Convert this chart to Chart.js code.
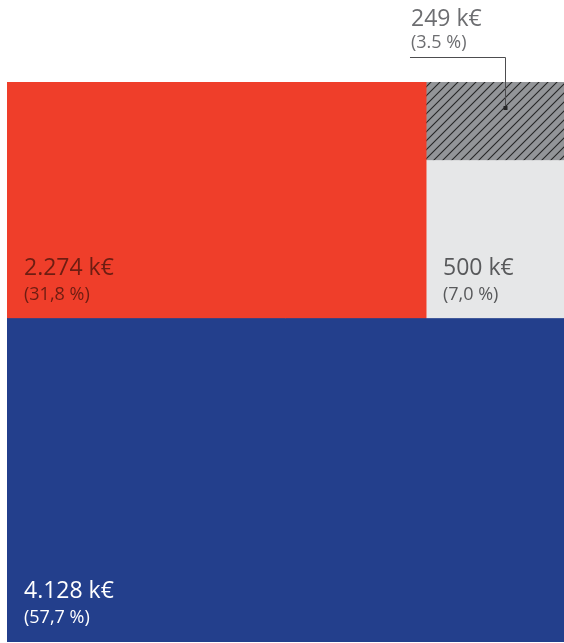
<!DOCTYPE html>
<html>
<head>
<meta charset="utf-8">
<script src="https://cdn.jsdelivr.net/npm/chart.js@4/dist/chart.umd.min.js"></script>
<style>
  html, body { margin: 0; padding: 0; background: #fff; }
  #wrap { width: 564px; height: 643px; }
</style>
</head>
<body>
<div id="wrap"><canvas id="treemap" width="564" height="643"></canvas></div>
<script>
// values (k€), in layout order: big bottom block, top left, right bottom, right top
const values = [4128, 2274, 500, 249];
const valueLabels = ['4.128 k€', '2.274 k€', '500 k€', '249 k€'];
const shareLabels = ['(57,7 %)', '(31,8 %)', '(7,0 %)', '(3.5 %)'];

const fillColors = ['#233f8c', '#ef3e2a', '#e6e7e8', null]; // last one is hatched
const textColors = ['#ffffff', '#6d1d12', '#58595b', '#6d6e71'];

// hatch pattern for the smallest block
function hatch() {
    const c = document.createElement('canvas');
    c.width = 9; c.height = 9;
    const g = c.getContext('2d');
    g.fillStyle = '#939598';
    g.fillRect(0, 0, 9, 9);
    g.strokeStyle = '#262626';
    g.lineWidth = 1.1;
    g.beginPath();
    g.moveTo(-1, 10); g.lineTo(10, -1);
    g.moveTo(-1, 1); g.lineTo(1, -1);
    g.moveTo(8, 10); g.lineTo(10, 8);
    g.stroke();
    return g.createPattern(c, 'repeat');
}
fillColors[3] = hatch();

// simple slice layout in unit square (y up)
const total = values.reduce((a, b) => a + b, 0);
const hBottom = values[0] / total;
const rest = values[1] + values[2] + values[3];
const wLeft = values[1] / rest;
const hMid = (1 - hBottom) * values[2] / (values[2] + values[3]);
const rects = [
    [0, 1, 0, hBottom],
    [0, wLeft, hBottom, 1],
    [wLeft, 1, hBottom, hBottom + hMid],
    [wLeft, 1, hBottom + hMid, 1]
];

function box(r) {
    return [
        {x: r[0], y: r[2]}, {x: r[1], y: r[2]},
        {x: r[1], y: r[3]}, {x: r[0], y: r[3]}, {x: r[0], y: r[2]}
    ];
}

const labelPlugin = {
    id: 'blockLabels',
    afterDatasetsDraw(chart) {
        const ctx = chart.ctx;
        const xs = chart.scales.x, ys = chart.scales.y;
        ctx.save();
        ctx.textAlign = 'left';
        ctx.textBaseline = 'alphabetic';
        for (let i = 0; i < 3; i++) {
            const r = rects[i];
            const left = xs.getPixelForValue(r[0]) + 17;
            const bottom = ys.getPixelForValue(r[2]);
            ctx.fillStyle = textColors[i];
            ctx.font = '23px "Open Sans"';
            ctx.fillText(valueLabels[i], left, bottom - 44);
            ctx.font = '18px "Open Sans"';
            ctx.fillText(shareLabels[i], left, bottom - 19);
        }
        // smallest block: label outside with leader line
        const r = rects[3];
        const x0 = xs.getPixelForValue(r[0]), x1 = xs.getPixelForValue(r[1]);
        const y0 = ys.getPixelForValue(r[3]), y1 = ys.getPixelForValue(r[2]);
        const px = Math.round(x0 + 0.57 * (x1 - x0)) + 0.5;
        const py = Math.round(y0 + 0.33 * (y1 - y0));
        ctx.fillStyle = textColors[3];
        ctx.font = '23px "Open Sans"';
        ctx.fillText(valueLabels[3], x0 - 15, y0 - 56);
        ctx.font = '18px "Open Sans"';
        ctx.fillText(shareLabels[3], x0 - 15, y0 - 34);
        ctx.strokeStyle = '#4d4d4f';
        ctx.lineWidth = 1;
        ctx.beginPath();
        ctx.moveTo(x0 - 16, y0 - 24.5);
        ctx.lineTo(px, y0 - 24.5);
        ctx.lineTo(px, py);
        ctx.stroke();
        ctx.fillStyle = '#262626';
        ctx.fillRect(px - 2, py - 2, 4, 4);
        ctx.restore();
    }
};

new Chart(document.getElementById('treemap').getContext('2d'), {
    type: 'scatter',
    data: {
        datasets: rects.map((r, i) => ({
            label: valueLabels[i],
            data: box(r),
            showLine: true,
            fill: 'shape',
            backgroundColor: fillColors[i],
            borderColor: fillColors[i],
            borderWidth: 1,
            pointRadius: 0,
            tension: 0
        }))
    },
    options: {
        responsive: false,
        animation: false,
        layout: { padding: { left: 7, top: 82, right: 0, bottom: 1 } },
        scales: {
            x: { type: 'linear', min: 0, max: 1, display: false },
            y: { type: 'linear', min: 0, max: 1, display: false }
        },
        plugins: {
            legend: { display: false },
            tooltip: { enabled: false }
        }
    },
    plugins: [labelPlugin]
});
</script>
</body>
</html>
